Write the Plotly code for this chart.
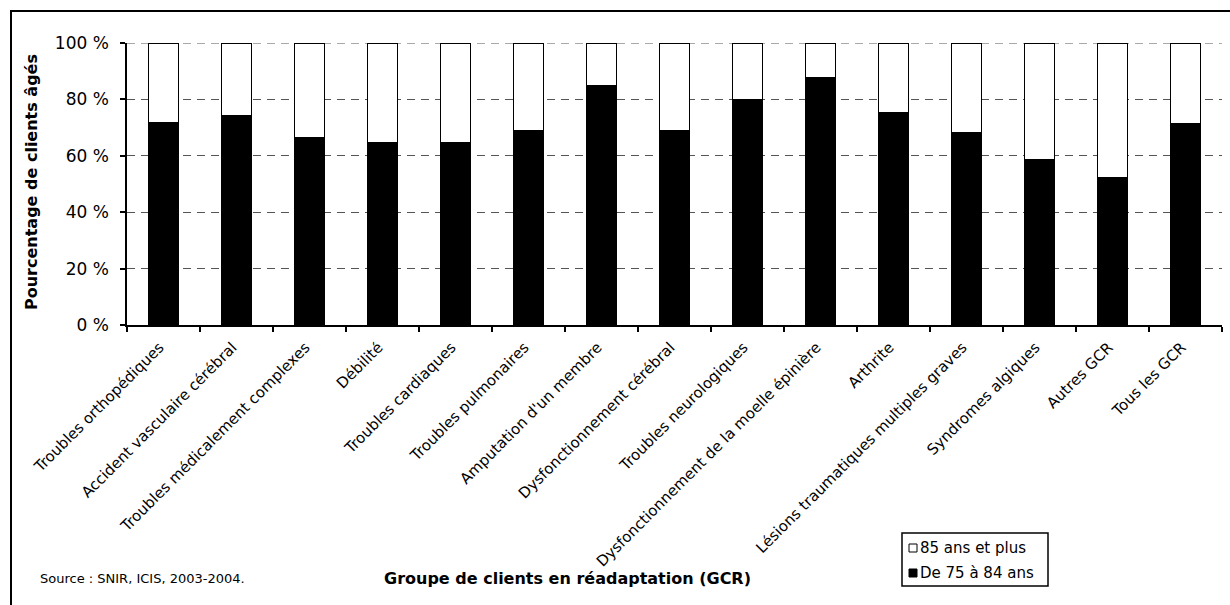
import plotly.graph_objects as go

# Rehabilitation client groups (GCR)
categories = [
    "Troubles orthopédiques",
    "Accident vasculaire cérébral",
    "Troubles médicalement complexes",
    "Débilité",
    "Troubles cardiaques",
    "Troubles pulmonaires",
    "Amputation d'un membre",
    "Dysfonctionnement cérébral",
    "Troubles neurologiques",
    "Dysfonctionnement de la moelle épinière",
    "Arthrite",
    "Lésions traumatiques multiples graves",
    "Syndromes algiques",
    "Autres GCR",
    "Tous les GCR",
]

# Share of older clients by age group (%)
age_75_84 = [71.6, 74.3, 66.3, 64.5, 64.7, 69.0, 84.8, 69.0, 79.8, 87.8, 75.3, 68.3, 58.6, 52.2, 71.4]
age_85_plus = [28.4, 25.7, 33.7, 35.5, 35.3, 31.0, 15.2, 31.0, 20.2, 12.2, 24.7, 31.7, 41.4, 47.8, 28.6]

y_ticks = [0, 20, 40, 60, 80, 100]
y_tick_labels = ["0 %", "20 %", "40 %", "60 %", "80 %", "100 %"]

series_names = ["85 ans et plus", "De 75 à 84 ans"]

W, H = 1230, 605
ML, MR, MT, MB = 127, 8, 43, 280
PW, PH = W - ML - MR, H - MT - MB


def px_x(px):
    return (px - ML) / PW


def px_y(py):
    return (H - MB - py) / PH


FONT = "DejaVu Sans"
GRID_COLOR = "#555555"
GRID_DASH = "8px,6px"

fig = go.Figure()
fig.add_trace(go.Bar(
    x=categories, y=age_75_84, name=series_names[1],
    marker=dict(color="black", line=dict(color="black", width=1.5)),
    showlegend=False,
))
fig.add_trace(go.Bar(
    x=categories, y=age_85_plus, name=series_names[0],
    marker=dict(color="white", line=dict(color="black", width=1.5)),
    showlegend=False,
))

shapes = []
annotations = []

# Top gridline (sits on the plot edge, so drawn explicitly)
shapes.append(dict(type="line", xref="paper", yref="y",
                   x0=0, x1=1, y0=y_ticks[-1], y1=y_ticks[-1],
                   line=dict(color=GRID_COLOR, width=1, dash=GRID_DASH),
                   layer="below"))

# Outer frame around the whole chart
shapes.append(dict(type="rect", xref="paper", yref="paper",
                   x0=px_x(11), y0=px_y(11), x1=px_x(W + 20), y1=px_y(H + 20),
                   line=dict(color="black", width=2), fillcolor="rgba(0,0,0,0)",
                   layer="above"))

# Key box
shapes.append(dict(type="rect", xref="paper", yref="paper",
                   x0=px_x(902), y0=px_y(533), x1=px_x(1048), y1=px_y(586),
                   line=dict(color="black", width=1.5), fillcolor="white"))
key_rows = [(548, "white"), (573, "black")]
for (cy, col), label in zip(key_rows, series_names):
    shapes.append(dict(type="rect", xref="paper", yref="paper",
                       x0=px_x(909), y0=px_y(cy - 4), x1=px_x(917), y1=px_y(cy + 4),
                       line=dict(color="black", width=1), fillcolor=col))
    annotations.append(dict(xref="paper", yref="paper", x=px_x(918), y=px_y(cy),
                            xanchor="left", yanchor="middle", showarrow=False,
                            text=label, font=dict(family=FONT, size=15, color="black")))

# Axis titles and source note
annotations.append(dict(xref="paper", yref="paper", x=px_x(31), y=px_y(182),
                        xanchor="center", yanchor="middle", showarrow=False, textangle=-90,
                        text="<b>Pourcentage de clients âgés</b>",
                        font=dict(family=FONT, size=16, color="black")))
annotations.append(dict(xref="paper", yref="paper", x=px_x(382), y=px_y(578),
                        xanchor="left", yanchor="middle", showarrow=False,
                        text="<b>Groupe de clients en réadaptation (GCR)</b>",
                        font=dict(family=FONT, size=16, color="black")))
annotations.append(dict(xref="paper", yref="paper", x=px_x(38), y=px_y(578),
                        xanchor="left", yanchor="middle", showarrow=False,
                        text="Source : SNIR, ICIS, 2003-2004.",
                        font=dict(family=FONT, size=13, color="black")))

fig.update_layout(
    width=W, height=H,
    margin=dict(l=ML, r=MR, t=MT, b=MB, pad=0),
    paper_bgcolor="white", plot_bgcolor="white",
    barmode="stack", bargap=0.59,
    font=dict(family=FONT, color="black"),
    shapes=shapes, annotations=annotations,
    xaxis=dict(
        type="category", tickangle=-45, tickson="boundaries",
        ticks="outside", ticklen=5, tickwidth=1.5, tickcolor="black",
        showline=True, linecolor="black", linewidth=1.5,
        showgrid=False, tickfont=dict(family=FONT, size=15, color="black"),
        range=[-0.5, len(categories) - 0.5],
        ticklabelstandoff=6, ticklabelshift=-4,
    ),
    yaxis=dict(
        range=[0, 100], tickvals=y_ticks, ticktext=y_tick_labels,
        ticks="outside", ticklen=5, tickwidth=1.5, tickcolor="black",
        showline=True, linecolor="black", linewidth=1.5,
        showgrid=True, gridcolor=GRID_COLOR, gridwidth=1, griddash=GRID_DASH,
        zeroline=False, tickfont=dict(family=FONT, size=17, color="black"),
        ticklabelstandoff=8,
    ),
)

fig.write_html("out.html")
